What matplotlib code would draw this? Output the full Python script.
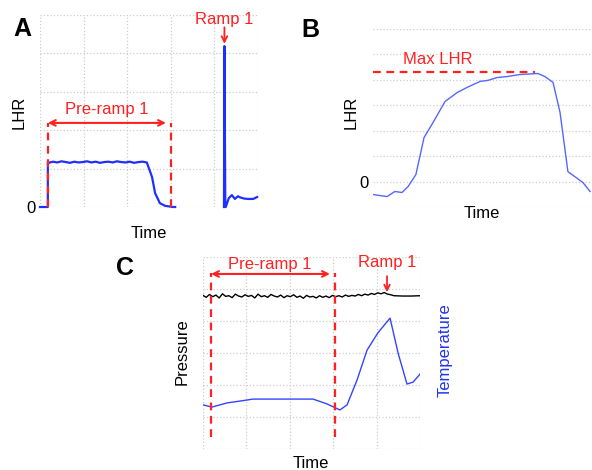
import matplotlib.pyplot as plt
import numpy as np

plt.rcParams['font.family'] = ['Liberation Sans', 'DejaVu Sans']

W, H = 592, 470

# --- Panel A: LHR trace (pre-ramp plateau, then ramp spike) ---
plateau_a = [1.15, 1.18, 1.16, 1.19, 1.17, 1.15, 1.18, 1.16, 1.17, 1.19, 1.16, 1.18,
             1.15, 1.17, 1.18, 1.16, 1.19, 1.17, 1.16, 1.18, 1.15, 1.17, 1.18, 1.16]
a_t = ([0.0, 1.8, 1.8] + list(np.linspace(2.0, 24.5, len(plateau_a)))
       + [25.7, 26.4, 27.5, 28.7, 30.5, 31.0, np.nan,
          42.2, 42.3, 42.5, 42.6, 43.3, 44.0, 44.7, 45.4, 45.9, 46.8, 47.7, 48.9, 49.8])
a_v = ([0.0, 0.0, 1.17] + plateau_a
       + [0.78, 0.36, 0.10, 0.03, 0.0, 0.0, np.nan,
          0.0, 4.19, 0.0, 0.0, 0.23, 0.31, 0.21, 0.28, 0.25, 0.22, 0.21, 0.21, 0.26])
a_prer = (1.8, 30.0)   # pre-ramp window
a_ramp = 42.3          # ramp time

# --- Panel B: LHR during ramp ---
b_t = [0, 6.4, 10.0, 13.2, 16.0, 19.6, 23.3, 27.4, 32.9, 38.4, 42.9, 48.9, 52.5,
       56.6, 61.2, 67.1, 75.3, 78.5, 82.2, 85.4, 89.0, 95.9, 99.1]
b_v = [-0.51, -0.59, -0.39, -0.43, -0.20, 0.28, 1.73, 2.32, 3.15, 3.50, 3.70, 3.94, 3.98,
       4.09, 4.13, 4.21, 4.25, 4.13, 3.90, 2.72, 0.39, -0.04, -0.39]
b_max = 4.29

# --- Panel C: pressure (black) and temperature (blue) ---
pressure = [4.80, 4.74, 4.83, 4.76, 4.81, 4.72, 4.85, 4.77, 4.79, 4.73, 4.84, 4.78,
            4.75, 4.82, 4.77, 4.80, 4.72, 4.84, 4.76, 4.79, 4.74, 4.83, 4.78, 4.75,
            4.81, 4.73, 4.79, 4.76, 4.82, 4.74, 4.78, 4.71, 4.80, 4.75, 4.77, 4.72,
            4.79, 4.74, 4.78, 4.73, 4.80, 4.76, 4.79, 4.75, 4.81, 4.77, 4.80, 4.78,
            4.83, 4.79, 4.84, 4.81, 4.86, 4.83, 4.88, 4.85, 4.89, 4.84, 4.82, 4.79,
            4.78, 4.78, 4.79]
pressure_t = list(np.linspace(0, 88, 60)) + [92, 96, 100]
temp_t = [0, 4.1, 11.1, 20.3, 23.0, 50.7, 57.1, 63.1, 66.4, 71.0, 75.6, 80.6, 86.2,
          89.9, 94.0, 96.8, 100]
temp_v = [1.38, 1.31, 1.44, 1.53, 1.56, 1.56, 1.41, 1.22, 1.38, 2.16, 3.09, 3.63, 4.09,
          3.0, 2.03, 2.09, 2.34]
c_prer = (3.7, 60.8)
c_ramp = 84.8

RED = '#ff2020'
grid_kw = dict(color='#cccccc', linestyle=':', linewidth=0.9)
dash = (0, (3.5, 2.5))


def box(l, t, r, b):
    return [l / W, 1 - b / H, (r - l) / W, (b - t) / H]


def clean(ax):
    for s in ax.spines.values():
        s.set_visible(False)
    ax.tick_params(length=0, labelsize=12, pad=3)


fig = plt.figure(figsize=(W / 100, H / 100), dpi=100)

# Panel A
ax = fig.add_axes(box(40, 15, 258, 207))
clean(ax)
ax.set_xlim(0, 50)
ax.set_ylim(0, 5)
ax.set_xticks(np.arange(0, 51, 10))
ax.set_xticklabels([])
ax.set_yticks(np.arange(0, 6))
ax.set_yticklabels(['0', '', '', '', '', ''])
ax.grid(True, **grid_kw)
ax.plot(a_t, a_v, color='#1f2fff', lw=1.6, clip_on=False)
for x in a_prer:
    ax.plot([x, x], [0, 2.2], color=RED, lw=1.6, linestyle=dash)
ax.annotate('', xy=(a_prer[0], 2.19), xytext=(28.9, 2.19),
            arrowprops=dict(arrowstyle='<->', color=RED, lw=1.5, shrinkA=0, shrinkB=0))
ax.text(15.3, 2.55, 'Pre-ramp 1', color=RED, fontsize=12, ha='center', va='center')
ax.text(a_ramp, 4.87, 'Ramp 1', color=RED, fontsize=12, ha='center', va='center', clip_on=False)
ax.annotate('', xy=(a_ramp, 4.25), xytext=(a_ramp, 4.68),
            arrowprops=dict(arrowstyle='->', color=RED, lw=1.3, shrinkA=0, shrinkB=0))

# Panel B
ax = fig.add_axes(box(373, 29, 592, 207))
clean(ax)
ax.set_xlim(0, 100)
ax.set_ylim(-1, 6)
ax.set_xticks([])
ax.set_yticks(np.arange(-1, 7))
ax.set_yticklabels(['', '0', '', '', '', '', '', ''])
ax.grid(True, axis='y', **grid_kw)
ax.plot(b_t, b_v, color='#5566ff', lw=1.0)
ax.plot([0, 74], [b_max, b_max], color=RED, lw=1.6, linestyle=dash)
ax.text(29.7, 4.8, 'Max LHR', color=RED, fontsize=12, ha='center', va='center')

# Panel C
ax = fig.add_axes(box(203, 257, 420, 449))
clean(ax)
ax.set_xlim(0, 100)
ax.set_ylim(0, 6)
ax.set_xticks(np.arange(0, 101, 20))
ax.set_yticks(np.arange(0, 7))
ax.set_xticklabels([])
ax.set_yticklabels([])
ax.grid(True, **grid_kw)
ax.plot(pressure_t, pressure, color='black', lw=1.0)
ax.plot(temp_t, temp_v, color='#3344ff', lw=1.0)
for x in c_prer:
    ax.plot([x, x], [0.375, 5.5], color=RED, lw=1.6, linestyle=dash)
ax.annotate('', xy=(c_prer[0], 5.47), xytext=(58.5, 5.47),
            arrowprops=dict(arrowstyle='<->', color=RED, lw=1.5, shrinkA=0, shrinkB=0))
ax.text(30.9, 5.75, 'Pre-ramp 1', color=RED, fontsize=12, ha='center', va='center')
ax.text(c_ramp, 5.84, 'Ramp 1', color=RED, fontsize=12, ha='center', va='center')
ax.annotate('', xy=(c_ramp, 4.9), xytext=(c_ramp, 5.4),
            arrowprops=dict(arrowstyle='->', color=RED, lw=1.3, shrinkA=0, shrinkB=0))


def label(px, py, s, **kw):
    fig.text(px / W, 1 - py / H, s, ha='center', va='center', **kw)


label(22, 29, 'A', fontsize=18, fontweight='bold')
label(310, 30, 'B', fontsize=18, fontweight='bold')
label(125, 268, 'C', fontsize=18, fontweight='bold')
label(19, 112, 'LHR', fontsize=12, rotation=90)
label(149, 233, 'Time', fontsize=12)
label(351, 112, 'LHR', fontsize=12, rotation=90)
label(482, 213, 'Time', fontsize=12)
label(182, 352, 'Pressure', fontsize=12, rotation=90)
label(445, 350, 'Temperature', fontsize=12, rotation=90, color='#2233ee')
label(311, 464, 'Time', fontsize=12)

fig.savefig('out.png', dpi=100)
